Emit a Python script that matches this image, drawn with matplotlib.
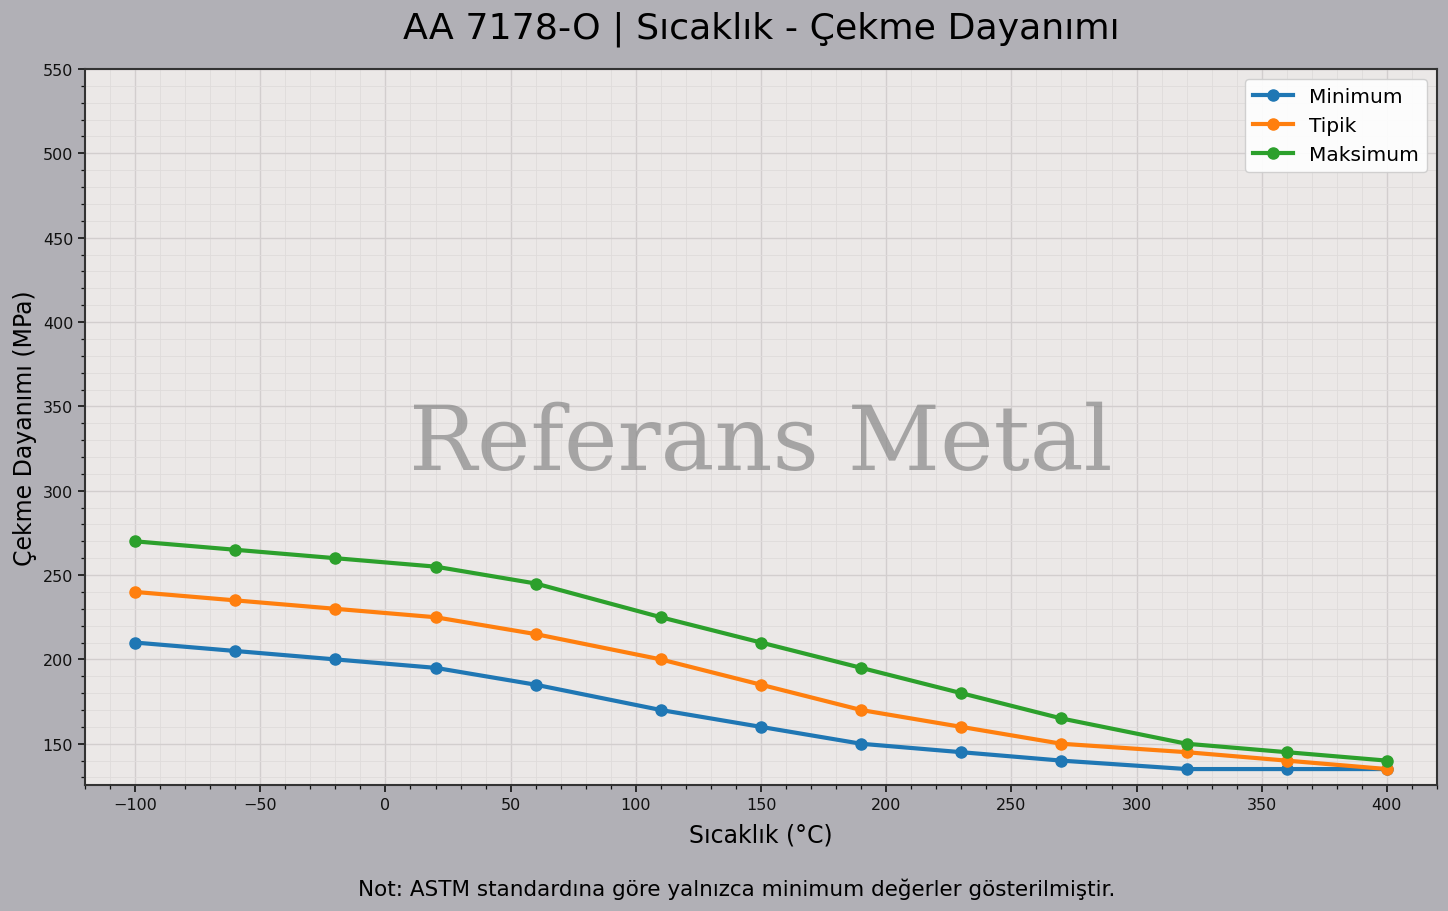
import matplotlib
matplotlib.use("Agg")
import matplotlib.pyplot as plt
from matplotlib.ticker import MultipleLocator

temps = [-100, -60, -20, 20, 60, 110, 150, 190, 230, 270, 320, 360, 400]
minimum = [210, 205, 200, 195, 185, 170, 160, 150, 145, 140, 135, 135, 135]
tipik = [240, 235, 230, 225, 215, 200, 185, 170, 160, 150, 145, 140, 135]
maksimum = [270, 265, 260, 255, 245, 225, 210, 195, 180, 165, 150, 145, 140]
series_names = ["Minimum", "Tipik", "Maksimum"]
colors = ["#1f77b4", "#ff7f0e", "#2ca02c"]

title = "AA 7178-O | Sıcaklık - Çekme Dayanımı"
xlabel = "Sıcaklık (°C)"
ylabel = "Çekme Dayanımı (MPa)"
note = "Not: ASTM standardına göre yalnızca minimum değerler gösterilmiştir."
watermark = "Referans Metal"

fig = plt.figure(figsize=(14.48, 9.12), dpi=100, facecolor="#b1b0b6")
ax = fig.add_axes([85/1448, 1-786/912, (1437-85)/1448, (786-70)/912])
ax.set_facecolor("#ebe8e7")

for vals, name, c in zip([minimum, tipik, maksimum], series_names, colors):
    ax.plot(temps, vals, marker="o", color=c, linewidth=3, markersize=8, label=name)

ax.set_xlim(-120, 420)
ax.set_ylim(135 * 0.93, 550)
ax.xaxis.set_major_locator(MultipleLocator(50))
ax.xaxis.set_minor_locator(MultipleLocator(10))
ax.yaxis.set_major_locator(MultipleLocator(50))
ax.yaxis.set_minor_locator(MultipleLocator(10))
ax.grid(which="major", color="#d2cece", linewidth=1.0)
ax.grid(which="minor", color="#dfdbdb", linewidth=0.6)
ax.set_axisbelow(True)
for s in ax.spines.values():
    s.set_color("#333333")
    s.set_linewidth(1.5)
ax.tick_params(which="major", labelsize=11.5, length=5, width=1.2, colors="#111111")
ax.tick_params(which="minor", length=3, width=0.9, colors="#111111")

ax.set_xlabel(xlabel, fontsize=17, labelpad=8)
ax.set_ylabel(ylabel, fontsize=17, labelpad=4)
ax.set_title(title, fontsize=26.2, pad=23)
fig.text(0.509, 1-889/912, note, ha="center", va="center", fontsize=15.5)

ax.text(0.5, 0.441, watermark, transform=ax.transAxes, ha="center", va="baseline",
        fontsize=65, family="DejaVu Serif", color="#808080", alpha=0.65)

leg = ax.legend(loc="upper right", fontsize=14.5, framealpha=0.9)

fig.savefig("out.png", dpi=100, facecolor=fig.get_facecolor())
